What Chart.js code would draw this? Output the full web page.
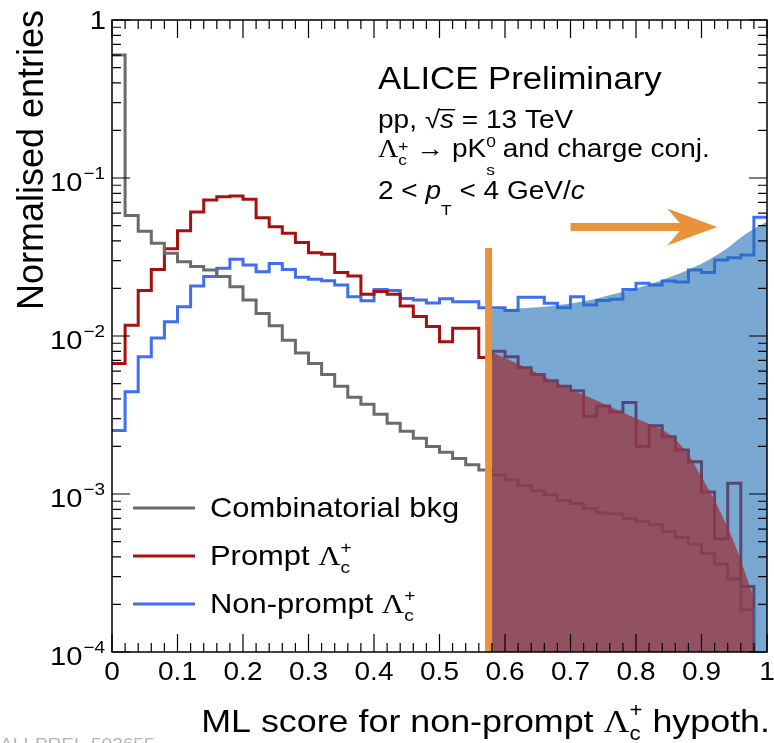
<!DOCTYPE html>
<html>
<head>
<meta charset="utf-8">
<title>ML score for non-prompt Λc+ hypothesis</title>
<script src="https://cdn.jsdelivr.net/npm/chart.js@4.4.1/dist/chart.umd.min.js"></script>
<style>
  html, body { margin: 0; padding: 0; background: #fff; }
  canvas { display: block; }
</style>
</head>
<body>
<canvas id="mlScoreChart" width="774" height="743"></canvas>
<script>
// ----------------------------------------------------------------------
// Histogram binning: 50 bins of the ML score between 0 and 1
// ----------------------------------------------------------------------
const scoreMin = 0;
const scoreMax = 1;
const nBins = 50;

const EMPTY = 1e-6; // empty bin, sits below the log axis

// normalised entries per bin
const combinatorialBkg = [
  0.60, 0.058, 0.046, 0.0386, 0.0334, 0.0295, 0.0275, 0.0262, 0.0238, 0.0205,
  0.0169, 0.0139, 0.0116, 0.0094, 0.0078, 0.0067, 0.0057, 0.0048, 0.0041, 0.0037,
  0.0032, 0.0028, 0.0025, 0.00225, 0.0020, 0.00184, 0.00168, 0.00153, 0.00142, 0.00132,
  0.00123, 0.00113, 0.00105, 0.00099, 0.00091, 0.00087, 0.00081, 0.00076, 0.00075, 0.00070,
  0.00067, 0.00064, 0.00058, 0.00053, 0.00048, 0.00042, 0.00036, 0.00029, 0.000185, EMPTY
];
const promptLc = [
  0.0067, 0.0117, 0.0194, 0.0264, 0.0357, 0.0464, 0.0609, 0.0726, 0.0762, 0.0769,
  0.0733, 0.0561, 0.0492, 0.0447, 0.0390, 0.0337, 0.0329, 0.0252, 0.0240, 0.0184,
  0.0191, 0.0184, 0.0155, 0.0133, 0.0115, 0.0092, 0.0112, 0.0112, 0.0073, 0.0080,
  0.0074, 0.0063, 0.0057, 0.0052, 0.0048, 0.0045, 0.0031, 0.0036, 0.0033, 0.0038,
  0.0020, 0.0027, 0.0023, 0.0019, 0.0016, 0.00103, 0.00052, 0.00117, 0.00026, EMPTY
];
const nonPromptLc = [
  0.00252, 0.00444, 0.0074, 0.0097, 0.0123, 0.0153, 0.0207, 0.0238, 0.0268, 0.0306,
  0.0281, 0.0255, 0.0288, 0.0264, 0.0235, 0.0229, 0.0224, 0.0210, 0.0177, 0.0167,
  0.0197, 0.0194, 0.0173, 0.0169, 0.0162, 0.0172, 0.0165, 0.0165, 0.0151, 0.0151,
  0.0145, 0.0176, 0.0176, 0.0161, 0.0151, 0.0177, 0.0157, 0.0168, 0.0171, 0.0197,
  0.0216, 0.0210, 0.0223, 0.0220, 0.0262, 0.0252, 0.0303, 0.0313, 0.0326, 0.0564
];

// smooth shapes shaded above the cut
const nonPromptBandX = [0.58, 0.65, 0.72, 0.77, 0.82, 0.87, 0.91, 0.94, 0.96, 0.98, 1.0];
const nonPromptBandY = [0.0147, 0.0152, 0.0166, 0.0186, 0.0212, 0.0252, 0.0302, 0.0360, 0.0420, 0.0478, 0.0530];
const promptBandX = [0.58, 0.64, 0.69, 0.74, 0.80, 0.85, 0.88, 0.90, 0.925, 0.95, 0.97, 0.98];
const promptBandY = [0.0079, 0.0061, 0.0048, 0.0039, 0.0030, 0.0024, 0.00178, 0.00128, 0.00083, 0.00049, 0.00029, 0.00022];

// selection cut and the arrow pointing to the kept region
const cutValue = 0.575;
const cutTop = 0.036;
const arrowFrom = 0.70;
const arrowTo = 0.924;
const arrowLevel = 0.049;

// axis labels
const xTickValues = [0, 0.1, 0.2, 0.3, 0.4, 0.5, 0.6, 0.7, 0.8, 0.9, 1];
const xTickLabels = ['0', '0.1', '0.2', '0.3', '0.4', '0.5', '0.6', '0.7', '0.8', '0.9', '1'];
const yDecades = [0, -1, -2, -3, -4];

// ----------------------------------------------------------------------
// Colours
// ----------------------------------------------------------------------
const colBkg = '#6b6b6b';
const colPrompt = '#a8100f';
const colNonPrompt = '#3f6ff0';
const colNonPromptFill = 'rgba(31, 110, 181, 0.6)';
const colPromptFill = 'rgba(155, 51, 62, 0.75)';
const colCut = '#e8923a';

// ----------------------------------------------------------------------
// Text helpers
// ----------------------------------------------------------------------
const SX = 1.12; // lettering a bit wider than the plain font
const SANS = '"Liberation Sans", Arial, Helvetica, sans-serif';
const SERIF = '"Liberation Serif", "Times New Roman", serif';

function fontOf(style, px) {
  if (style === 'i') return `italic ${px}px ${SANS}`;
  if (style === 'g') return `${px}px ${SERIF}`;
  return `${px}px ${SANS}`;
}

// parts: {t, f: style, k: size factor, dy: baseline shift, stay: no advance, over: overline}
function richWidth(ctx, size, parts) {
  let w = 0;
  for (const p of parts) {
    ctx.font = fontOf(p.f, size * (p.k || 1));
    if (!p.stay) w += ctx.measureText(p.t).width;
  }
  return w * SX;
}

function drawRich(ctx, x, y, size, parts, align) {
  if (align === 'right') x -= richWidth(ctx, size, parts);
  ctx.save();
  ctx.translate(x, y);
  ctx.scale(SX, 1);
  ctx.textAlign = 'left';
  ctx.textBaseline = 'alphabetic';
  let cx = 0;
  for (const p of parts) {
    const px = size * (p.k || 1);
    ctx.font = fontOf(p.f, px);
    const w = ctx.measureText(p.t).width;
    ctx.fillText(p.t, cx, p.dy || 0);
    if (p.over) ctx.fillRect(cx - 1, (p.dy || 0) - px * 0.76, w + 2, 1.4);
    if (!p.stay) cx += w;
  }
  ctx.restore();
}

function lambdaC(subDy, supDy) {
  return [
    { t: 'Λ', f: 'g' },
    { t: 'c', k: 0.62, dy: subDy, stay: true },
    { t: '+', k: 0.62, dy: supDy }
  ];
}

// ----------------------------------------------------------------------
// Histogram as stepped line points (bin low edges + closing edge)
// ----------------------------------------------------------------------
function histPoints(values) {
  const w = (scoreMax - scoreMin) / nBins;
  const pts = values.map((v, i) => ({ x: scoreMin + i * w, y: v }));
  pts.push({ x: scoreMax, y: values[values.length - 1] });
  return pts;
}

function bandPoints(xs, ys) {
  return xs.map((x, i) => ({ x: x, y: ys[i] }));
}

// ----------------------------------------------------------------------
// Frame, ticks, labels, legend and annotations (ROOT style)
// ----------------------------------------------------------------------
const rootStylePlugin = {
  id: 'rootStyle',
  beforeDraw(chart) {
    const ctx = chart.ctx;
    ctx.save();
    ctx.fillStyle = '#fff';
    ctx.fillRect(0, 0, chart.width, chart.height);
    ctx.restore();
  },
  afterDatasetsDraw(chart) {
    const ctx = chart.ctx;
    const a = chart.chartArea;
    const xs = chart.scales.x;
    const ys = chart.scales.y;

    ctx.save();

    // selection arrow
    const ax0 = xs.getPixelForValue(arrowFrom);
    const ax1 = xs.getPixelForValue(arrowTo);
    const ay = ys.getPixelForValue(arrowLevel);
    ctx.fillStyle = colCut;
    ctx.fillRect(ax0, ay - 4, ax1 - 34 - ax0, 8);
    ctx.beginPath();
    ctx.moveTo(ax1, ay);
    ctx.lineTo(ax1 - 50, ay - 18.5);
    ctx.lineTo(ax1 - 34, ay);
    ctx.lineTo(ax1 - 50, ay + 18.5);
    ctx.closePath();
    ctx.fill();

    // frame
    ctx.strokeStyle = '#000';
    ctx.lineWidth = 1.5;
    ctx.strokeRect(a.left, a.top, a.right - a.left, a.bottom - a.top);

    // x ticks, bottom and top, pointing inwards
    ctx.lineWidth = 1.2;
    ctx.beginPath();
    for (let i = 0; i <= nBins; i++) {
      const px = xs.getPixelForValue(scoreMin + i * (scoreMax - scoreMin) / nBins);
      const len = i % 5 === 0 ? 18 : 9;
      ctx.moveTo(px, a.bottom); ctx.lineTo(px, a.bottom - len);
      ctx.moveTo(px, a.top); ctx.lineTo(px, a.top + len);
    }
    // y ticks, left and right
    for (let e = -4; e <= 0; e++) {
      for (let m = 1; m <= 9; m++) {
        if (e === 0 && m > 1) break;
        const py = ys.getPixelForValue(m * Math.pow(10, e));
        const len = m === 1 ? 18 : 9;
        ctx.moveTo(a.left, py); ctx.lineTo(a.left + len, py);
        ctx.moveTo(a.right, py); ctx.lineTo(a.right - len, py);
      }
    }
    ctx.stroke();

    ctx.fillStyle = '#000';

    // x tick labels
    xTickValues.forEach((v, i) => {
      const px = xs.getPixelForValue(v);
      ctx.font = fontOf('n', 25);
      const w = ctx.measureText(xTickLabels[i]).width * SX;
      drawRich(ctx, px - w / 2, a.bottom + 28, 25, [{ t: xTickLabels[i] }]);
    });

    // y tick labels: 1, 10^-1 ... 10^-4
    yDecades.forEach(e => {
      const py = ys.getPixelForValue(Math.pow(10, e));
      if (e === 0) {
        drawRich(ctx, a.left - 6, py + 9, 26, [{ t: '1' }], 'right');
      } else {
        const expParts = [{ t: '\u2212' + (-e), k: 0.65 }];
        const ew = richWidth(ctx, 26, expParts);
        drawRich(ctx, a.left - 7, py + 1, 26, expParts, 'right');
        drawRich(ctx, a.left - 8 - ew, py + 13, 26, [{ t: '10' }], 'right');
      }
    });

    // axis titles
    drawRich(ctx, 770, 732, 32,
      [{ t: 'ML score for non-prompt ' }].concat(lambdaC(8, -15), [{ t: ' hypoth.' }]), 'right');

    ctx.save();
    ctx.translate(43, 160);
    ctx.rotate(-Math.PI / 2);
    ctx.font = fontOf('n', 36);
    ctx.textAlign = 'center';
    ctx.textBaseline = 'alphabetic';
    ctx.fillText('Normalised entries', 0, 0);
    ctx.restore();

    // legend inside the frame
    const legend = [
      { color: colBkg, y: 517, parts: [{ t: 'Combinatorial bkg' }] },
      { color: colPrompt, y: 565, parts: [{ t: 'Prompt ' }].concat(lambdaC(8, -12)) },
      { color: colNonPrompt, y: 613, parts: [{ t: 'Non-prompt ' }].concat(lambdaC(8, -12)) }
    ];
    legend.forEach(item => {
      ctx.strokeStyle = item.color;
      ctx.lineWidth = 3;
      ctx.beginPath();
      ctx.moveTo(133, item.y - 9);
      ctx.lineTo(195, item.y - 9);
      ctx.stroke();
      ctx.fillStyle = '#000';
      drawRich(ctx, 210, item.y, 27.6, item.parts);
    });

    // annotations
    drawRich(ctx, 378, 89, 31, [{ t: 'ALICE Preliminary' }]);
    drawRich(ctx, 378, 128, 25, [
      { t: 'pp, ' }, { t: '\u221A' }, { t: 's', f: 'i', over: true }, { t: ' = 13 TeV' }
    ]);
    drawRich(ctx, 378, 157, 25, lambdaC(8, -6).concat([
      { t: ' \u2192 pK' },
      { t: '0', k: 0.62, dy: -10, stay: true },
      { t: 's', k: 0.62, dy: 18 },
      { t: ' and charge conj.' }
    ]));
    drawRich(ctx, 378, 199, 25, [
      { t: '2 < ' }, { t: 'p', f: 'i' },
      { t: 'T', k: 0.62, dy: 16 },
      { t: ' < 4 GeV/' }, { t: 'c', f: 'i' }
    ]);

    // preliminary figure id at the page corner
    ctx.fillStyle = '#b4b4b4';
    drawRich(ctx, 0, 750, 17, [{ t: 'ALI-PREL-503655' }]);

    ctx.restore();
  }
};

// ----------------------------------------------------------------------
// Chart
// ----------------------------------------------------------------------
const stepStyle = { stepped: 'before', borderWidth: 3, pointRadius: 0, fill: false, order: 3 };

new Chart(document.getElementById('mlScoreChart'), {
  type: 'line',
  data: {
    datasets: [
      Object.assign({ label: 'Combinatorial bkg', data: histPoints(combinatorialBkg), borderColor: colBkg }, stepStyle),
      Object.assign({ label: 'Prompt Λc+', data: histPoints(promptLc), borderColor: colPrompt }, stepStyle),
      Object.assign({ label: 'Non-prompt Λc+', data: histPoints(nonPromptLc), borderColor: colNonPrompt }, stepStyle),
      {
        label: 'Non-prompt band',
        data: bandPoints(nonPromptBandX, nonPromptBandY),
        borderColor: 'transparent', borderWidth: 0, pointRadius: 0,
        backgroundColor: colNonPromptFill, fill: 'start',
        cubicInterpolationMode: 'monotone', order: 2
      },
      {
        label: 'Prompt band',
        data: bandPoints(promptBandX, promptBandY),
        borderColor: 'transparent', borderWidth: 0, pointRadius: 0,
        backgroundColor: colPromptFill, fill: 'start',
        cubicInterpolationMode: 'monotone', order: 1
      },
      {
        label: 'Cut',
        data: [{ x: cutValue, y: 1e-4 }, { x: cutValue, y: cutTop }],
        borderColor: colCut, borderWidth: 7, borderCapStyle: 'butt',
        pointRadius: 0, fill: false, order: 0
      }
    ]
  },
  options: {
    responsive: false,
    animation: false,
    devicePixelRatio: 1,
    layout: { padding: { left: 112, right: 7, top: 20, bottom: 91 } },
    scales: {
      x: { type: 'linear', min: scoreMin, max: scoreMax, display: false },
      y: { type: 'logarithmic', min: 1e-4, max: 1, display: false }
    },
    plugins: {
      legend: { display: false },
      tooltip: { enabled: false }
    }
  },
  plugins: [rootStylePlugin]
});
</script>
</body>
</html>
